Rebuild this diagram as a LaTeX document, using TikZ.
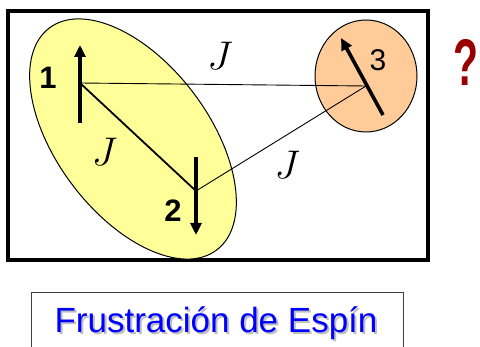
\documentclass[tikz,border=0pt]{standalone}
\usepackage{fix-cm}
\usepackage{fontspec}
\newfontfamily\labelfont{Liberation Sans}
\usetikzlibrary{arrows.meta, shapes.geometric, calc}
\definecolor{grpyellow}{RGB}{255,255,153}
\definecolor{siteorange}{RGB}{255,204,153}
\definecolor{askred}{RGB}{153,0,0}
\definecolor{titleblue}{RGB}{0,0,255}

\begin{document}
\begin{tikzpicture}[
  x=1pt, y=-1pt,
  frame/.style      = {draw, line width=3.5pt, inner sep=0pt},
  cluster/.style    = {draw, ellipse, line width=1pt, inner sep=0pt},
  bond/.style       = {line width=0.9pt},
  strongbond/.style = {line width=1.8pt},
  spin/.style       = {line width=3.6pt, -{Triangle[width=11pt,length=12pt]}},
  sitelabel/.style  = {font=\labelfont\bfseries\fontsize{31}{31}\selectfont, inner sep=0pt},
  coupling/.style   = {font=\fontsize{40}{40}\selectfont, inner sep=0pt},
  titlefont/.style  = {font=\labelfont\fontsize{35}{35}\selectfont, anchor=base}
]
\useasboundingbox (0,0) rectangle (480,347);

% Frame and clusters
\node[frame, minimum width=420, minimum height=249] (panel) at (218,135.5) {};
\node[cluster, fill=grpyellow, minimum width=278, minimum height=152, rotate=-53] (pair) at (133,139) {};
\node[cluster, fill=siteorange, minimum width=102, minimum height=112] (lone) at (366,76) {};

% Sites
\coordinate (s1) at (80,83);
\coordinate (s2) at (196,191);
\coordinate (s3) at (366,86);

% Bonds
\draw[bond] (s1) -- node[coupling, pos=0.49, yshift=29] (j13) {$J$} (s3);
\draw[strongbond] (s1) -- node[coupling, pos=0.41, xshift=-23, yshift=-25] (j12) {$J$} (s2);
\draw[bond] (s2) -- node[coupling, pos=0.46, xshift=13, yshift=-22] (j23) {$J$} (s3);

% Spins
\draw[spin] ($(s1)+(0,40)$) -- ($(s1)+(0,-38)$);
\draw[spin] ($(s2)+(0,-34)$) -- ($(s2)+(0,44)$);
\draw[spin] ($(s3)+(17,29)$) -- ($(s3)+(-25,-48)$);

% Labels
\node[sitelabel] (n1) at (48,78) {1};
\node[sitelabel] (n2) at (173,211) {2};
\node[sitelabel, font=\labelfont\fontsize{30}{30}\selectfont] (n3) at (378,60) {3};
\node[font=\labelfont\bfseries\fontsize{66}{66}\selectfont, text=askred,
      xscale=0.62, inner sep=0pt] (ask) at (466,62.5) {?};

% Title
\node[draw=black!75, line width=1.4pt, minimum width=372, minimum height=62,
      anchor=north west] (titlebox) at (31,292) {};
\node[titlefont, text=black!25] (shadow) at (218,335) {Frustración de Espín};
\node[titlefont, text=titleblue] (title) at (216,333) {Frustración de Espín};

\end{tikzpicture}
\end{document}
